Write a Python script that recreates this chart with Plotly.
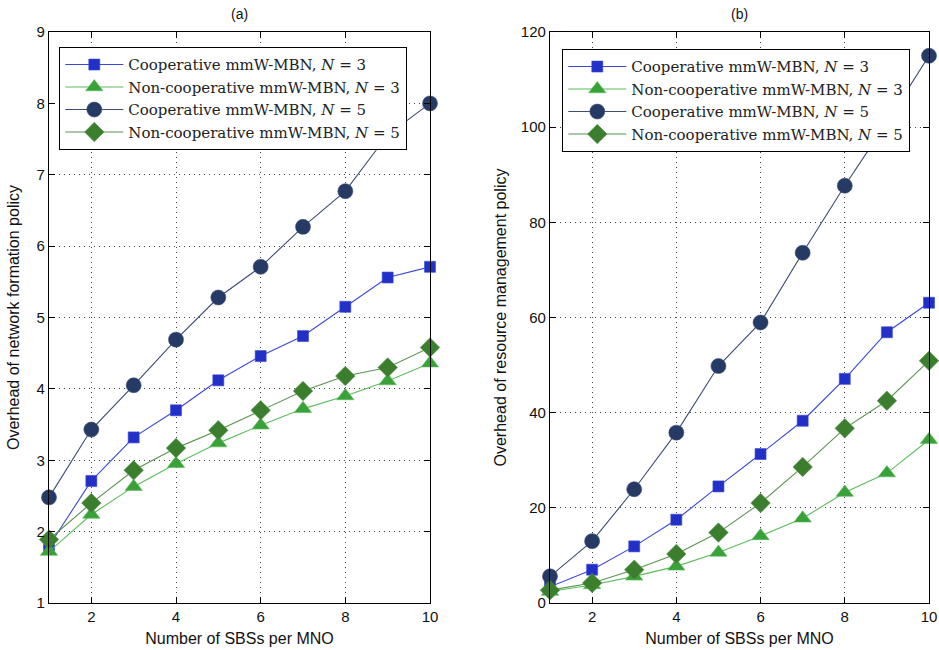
import plotly.graph_objects as go

# SBSs per MNO
sbs = [1, 2, 3, 4, 5, 6, 7, 8, 9, 10]

# (a) overhead of the network formation policy
nf_coop_n3 = [1.80, 2.71, 3.32, 3.70, 4.12, 4.46, 4.74, 5.15, 5.56, 5.71]
nf_noncoop_n3 = [1.72, 2.24, 2.63, 2.95, 3.24, 3.49, 3.72, 3.90, 4.11, 4.36]
nf_coop_n5 = [2.48, 3.43, 4.05, 4.69, 5.28, 5.71, 6.27, 6.77, 7.56, 8.00]
nf_noncoop_n5 = [1.89, 2.40, 2.86, 3.17, 3.42, 3.70, 3.97, 4.18, 4.30, 4.58]

# (b) overhead of the resource management policy
rm_coop_n3 = [3.4, 7.0, 11.9, 17.5, 24.5, 31.3, 38.3, 47.1, 56.9, 63.1]
rm_noncoop_n3 = [2.4, 3.8, 5.6, 7.7, 10.6, 14.1, 17.8, 23.2, 27.3, 34.3]
rm_coop_n5 = [5.6, 13.0, 23.9, 35.8, 49.8, 58.95, 73.6, 87.7, 101.0, 115.0]
rm_noncoop_n5 = [2.7, 4.2, 7.0, 10.3, 14.8, 21.0, 28.6, 36.7, 42.5, 50.9]

series_names = [
    "Cooperative mmW-MBN, <i>N</i> = 3",
    "Non-cooperative mmW-MBN, <i>N</i> = 3",
    "Cooperative mmW-MBN, <i>N</i> = 5",
    "Non-cooperative mmW-MBN, <i>N</i> = 5",
]
panel_titles = ["(a)", "(b)"]
x_title = "Number of SBSs per MNO"
y_titles = ["Overhead of network formation policy",
            "Overhead of resource management policy"]

styles = [
    dict(symbol="square", size=11, color="#2230c8", line="#3a48d8"),
    dict(symbol="triangle-up", size=15, color="#38a238", line="#5cbc5c"),
    dict(symbol="circle", size=15, color="#253a64", line="#3c4c72"),
    dict(symbol="diamond", size=15, color="#3a7e2e", line="#5a9450"),
]

fig = go.Figure()

panels = [
    ([nf_coop_n3, nf_noncoop_n3, nf_coop_n5, nf_noncoop_n5], "x", "y", "legend"),
    ([rm_coop_n3, rm_noncoop_n3, rm_coop_n5, rm_noncoop_n5], "x2", "y2", "legend2"),
]
for values, xa, ya, lg in panels:
    for name, vals, st in zip(series_names, values, styles):
        fig.add_trace(go.Scatter(
            x=sbs, y=vals, name=name, mode="lines+markers",
            xaxis=xa, yaxis=ya, legend=lg, cliponaxis=False,
            line=dict(color=st["line"], width=1.1),
            marker=dict(symbol=st["symbol"], size=st["size"], color=st["color"],
                        line=dict(color=st["line"], width=0.6)),
        ))

tick_font = dict(family="Liberation Sans, Arial, sans-serif", size=15, color="#111")
title_font = dict(family="Liberation Sans, Arial, sans-serif", size=16, color="#111")
legend_font = dict(family="DejaVu Serif, Liberation Serif, serif", size=15, color="#222")


def axis_style(**kw):
    base = dict(
        showline=True, linecolor="black", linewidth=1.3, mirror="allticks",
        ticks="inside", ticklen=6, tickcolor="black", tickwidth=1,
        showgrid=True, gridcolor="#444", griddash="1px,4px", gridwidth=1,
        zeroline=False, tickfont=tick_font, automargin=False,
    )
    base.update(kw)
    return base


W, H = 939, 650
fig.update_layout(
    width=W, height=H,
    margin=dict(l=0, r=0, t=0, b=0),
    paper_bgcolor="white", plot_bgcolor="white",
    xaxis=axis_style(domain=[49 / W, 430 / W], anchor="y", range=[1, 10],
                     tick0=0, dtick=2,
                     title=dict(text=x_title, font=title_font, standoff=8)),
    yaxis=axis_style(domain=[1 - 603 / H, 1 - 32 / H], anchor="x", range=[1, 9], dtick=1,
                     title=dict(text=y_titles[0], font=title_font, standoff=12)),
    xaxis2=axis_style(domain=[550 / W, 929 / W], anchor="y2", range=[1, 10],
                      tick0=0, dtick=2,
                      title=dict(text=x_title, font=title_font, standoff=8)),
    yaxis2=axis_style(domain=[1 - 603 / H, 1 - 32 / H], anchor="x2", range=[0, 120], dtick=20,
                      title=dict(text=y_titles[1], font=title_font, standoff=10)),
    legend=dict(x=59 / W, y=1 - 47 / H, xanchor="left", yanchor="top",
                bgcolor="white", bordercolor="black", borderwidth=1.3,
                font=legend_font, itemwidth=58, tracegroupgap=0),
    legend2=dict(x=562 / W, y=1 - 49 / H, xanchor="left", yanchor="top",
                 bgcolor="white", bordercolor="black", borderwidth=1.3,
                 font=legend_font, itemwidth=58, tracegroupgap=0),
    showlegend=True,
)

for title, cx in zip(panel_titles, [(49 + 430) / 2 / W, (550 + 929) / 2 / W]):
    fig.add_annotation(text=title, x=cx, y=1 - 14 / H, xref="paper", yref="paper",
                       showarrow=False, xanchor="center", yanchor="middle",
                       font=dict(family="Liberation Sans, Arial, sans-serif", size=14, color="#111"))

fig.write_html("out.html")
